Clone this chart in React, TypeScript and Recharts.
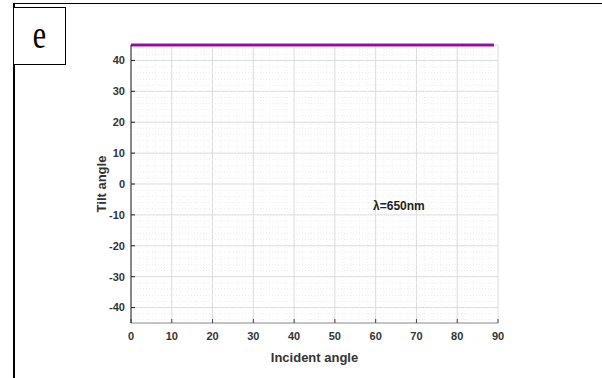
import { LineChart, Line, XAxis, YAxis, CartesianGrid, ReferenceLine, ReferenceDot } from 'recharts';

// tilt angle vs incident angle at 650 nm
const incidentAngle = [0, 10, 20, 30, 40, 50, 60, 70, 80, 89];
const tiltAngle = [45, 45, 45, 45, 45, 45, 45, 45, 45, 45];

const xTicks = [0, 10, 20, 30, 40, 50, 60, 70, 80, 90];
const yTicks = [-40, -30, -20, -10, 0, 10, 20, 30, 40];

// minor grid every 2 degrees
const xMinor = Array.from({ length: 46 }, (_, i) => i * 2).filter(v => v % 10 !== 0);
const yMinor = Array.from({ length: 46 }, (_, i) => i * 2 - 44).filter(v => v % 10 !== 0);

const wavelengthNote = { x: 65.7, y: -7, text: 'λ=650nm' };

const data = incidentAngle.map((x, i) => ({ x, tilt: tiltAngle[i] }));

const font = '"Liberation Sans Narrow", "Liberation Sans", Arial, sans-serif';
const tickStyle = { fontFamily: font, fontWeight: 700, fontSize: 11, fill: '#333' };
const blankTick = { fill: 'none', fontSize: 1 };

export default function App() {
  return (
    <div style={{ position: 'relative', width: 602, height: 378, background: '#fff', overflow: 'hidden' }}>
      <style>{'body{margin:0}'}</style>
      <LineChart
        width={602}
        height={378}
        data={data}
        margin={{ top: 45, right: 104, bottom: 9, left: 11 }}
        style={{ position: 'absolute', left: 0, top: 0 }}
      >
        <CartesianGrid stroke="#dcdcdc" strokeWidth={1} />
        {yMinor.map(v => (
          <ReferenceLine key={'ym' + v} y={v} stroke="#ebebeb" strokeDasharray="1 2" />
        ))}
        {xMinor.map(v => (
          <ReferenceLine key={'xm' + v} x={v} stroke="#f0f0f0" strokeDasharray="1 2" />
        ))}
        <XAxis
          dataKey="x"
          type="number"
          domain={[0, 90]}
          ticks={xTicks}
          height={46}
          tickSize={-4}
          tickMargin={13}
          stroke="#9a9a9a"
          tickLine={{ stroke: '#444' }}
          tick={tickStyle}
          label={{ value: 'Incident angle', position: 'insideBottom', offset: 7, style: { fontFamily: font, fontWeight: 700, fontSize: 13, fill: '#333' } }}
        />
        <XAxis
          xAxisId="top"
          orientation="top"
          dataKey="x"
          type="number"
          domain={[0, 90]}
          ticks={xTicks}
          height={0}
          tickSize={-4}
          tickLine={{ stroke: '#666' }}
          tick={blankTick}
          stroke="#b0b0b0"
        />
        <YAxis
          type="number"
          domain={[-45, 45]}
          ticks={yTicks}
          width={120}
          tickSize={-4}
          tickMargin={10}
          stroke="#222"
          tick={tickStyle}
          label={{ value: 'Tilt angle', angle: -90, position: 'center', dx: 30, style: { fontFamily: font, fontWeight: 700, fontSize: 13, fill: '#333' } }}
        />
        <YAxis
          yAxisId="right"
          orientation="right"
          type="number"
          domain={[-45, 45]}
          ticks={yTicks}
          width={0}
          tickSize={-4}
          tickLine={{ stroke: '#444' }}
          tick={blankTick}
          stroke="#b0b0b0"
        />
        <ReferenceDot
          x={wavelengthNote.x}
          y={wavelengthNote.y}
          r={0}
          stroke="none"
          fill="none"
          label={{ value: wavelengthNote.text, position: 'center', style: { fontFamily: font, fontWeight: 700, fontSize: 12, fill: '#222' } }}
        />
        <Line dataKey="tilt" stroke="#e879e8" strokeWidth={4} dot={false} isAnimationActive={false} />
        <Line dataKey="tilt" stroke="#7d1d86" strokeWidth={2} dot={false} isAnimationActive={false} />
      </LineChart>

      {/* panel frame and letter box */}
      <div style={{ position: 'absolute', left: 14, top: 3, right: 0, height: 0, borderTop: '1px solid #000' }} />
      <div style={{ position: 'absolute', left: 13, top: 3, bottom: 0, width: 0, borderLeft: '2px solid #000' }} />
      <div
        style={{
          position: 'absolute',
          left: 13,
          top: 7,
          width: 53,
          height: 58,
          border: '1px solid #000',
          background: '#fff',
          boxSizing: 'border-box',
        }}
      >
        <span
          style={{
            position: 'absolute',
            left: 0,
            right: 0,
            top: 7,
            textAlign: 'center',
            fontFamily: '"Liberation Serif", "Times New Roman", serif',
            fontSize: 30,
            lineHeight: '30px',
            transform: 'scaleY(1.3)',
            transformOrigin: 'center top',
          }}
        >
          e
        </span>
      </div>
    </div>
  );
}
